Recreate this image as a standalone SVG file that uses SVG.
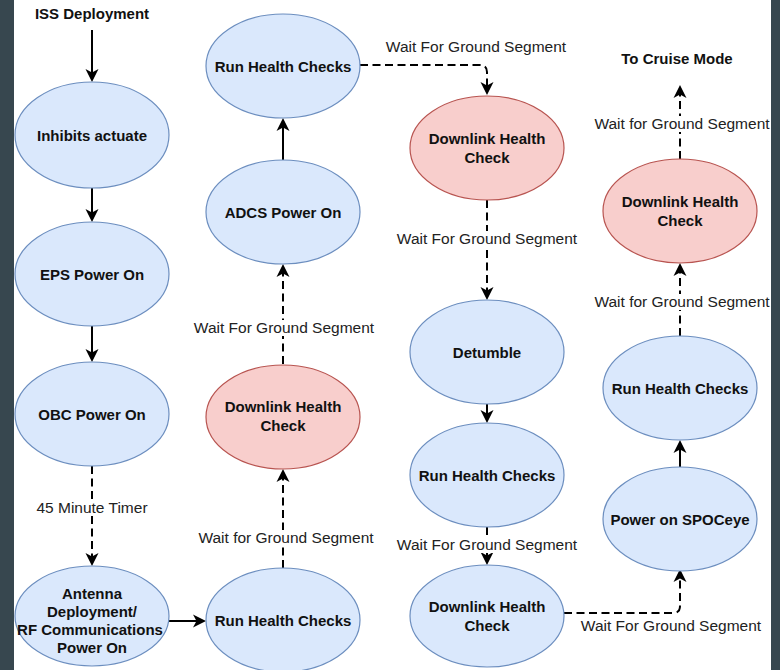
<svg xmlns="http://www.w3.org/2000/svg" width="780" height="670" viewBox="0 0 780 670">
  <style>
    .blue { fill: #dae8fc; stroke: #6c8ebf; stroke-width: 1.2; }
    .red { fill: #f8cecc; stroke: #b85450; stroke-width: 1.2; }
    .t { font-family: "Liberation Sans", Arial, sans-serif; font-size: 15px; font-weight: bold; fill: #111; text-anchor: middle; }
    .lbl { font-family: "Liberation Sans", Arial, sans-serif; font-size: 15.5px; fill: #222; text-anchor: middle; }
    .bg { fill: #ffffff; }
    .solid { fill: none; stroke: #000; stroke-width: 2; marker-end: url(#arr); }
    .dash { fill: none; stroke: #000; stroke-width: 2; stroke-dasharray: 8 4.5; marker-end: url(#arr); }
  </style>
  <defs>
    <marker id="arr" viewBox="-14 -8 16 16" markerWidth="16" markerHeight="16" refX="-8" refY="0" orient="auto" markerUnits="userSpaceOnUse">
      <path d="M0,0 L-13,-6.5 L-9.5,0 L-13,6.5 Z" fill="#000"/>
    </marker>
  </defs>

  <!-- page background and side bands -->
  <rect x="0" y="0" width="780" height="670" fill="#ffffff"/>
  <rect x="0" y="0" width="14" height="670" fill="#37474f"/>
  <rect x="771" y="0" width="9" height="670" fill="#37474f"/>

  <!-- connectors -->
  <g id="connectors">
    <path class="solid" d="M92,30 V74"/>
    <path class="solid" d="M92,188 V214"/>
    <path class="solid" d="M92,326 V354"/>
    <path class="dash" d="M92,466 V558"/>
    <path class="solid" d="M169,621 H198"/>

    <path class="dash" d="M283,568 V477"/>
    <path class="dash" d="M283,364 V272"/>
    <path class="solid" d="M283,160 V126"/>
    <path class="dash" d="M360,65 H480 Q487,65 487,72 V87"/>

    <path class="dash" d="M487,200 V292"/>
    <path class="solid" d="M487,404 V415"/>
    <path class="dash" d="M487,527 V557"/>
    <path class="dash" d="M564,613 H673 Q680,613 680,606 V577"/>

    <path class="solid" d="M680,467 V448"/>
    <path class="dash" d="M680,336 V271"/>
    <path class="dash" d="M680,159 V93"/>

    <!-- connector labels -->
    <rect class="bg" x="36" y="500" width="112" height="16"/>
    <text class="lbl" x="92" y="513">45 Minute Timer</text>
    <rect class="bg" x="198" y="530" width="176" height="16"/>
    <text class="lbl" x="286" y="543">Wait for Ground Segment</text>
    <rect class="bg" x="194" y="320" width="180" height="16"/>
    <text class="lbl" x="284" y="333">Wait For Ground Segment</text>
    <text class="lbl" x="476" y="52">Wait For Ground Segment</text>
    <rect class="bg" x="397" y="231" width="180" height="16"/>
    <text class="lbl" x="487" y="244">Wait For Ground Segment</text>
    <rect class="bg" x="397" y="537" width="180" height="16"/>
    <text class="lbl" x="487" y="550">Wait For Ground Segment</text>
    <text class="lbl" x="671" y="631">Wait For Ground Segment</text>
    <rect class="bg" x="595" y="294" width="174" height="16"/>
    <text class="lbl" x="682" y="307">Wait for Ground Segment</text>
    <rect class="bg" x="595" y="116" width="174" height="16"/>
    <text class="lbl" x="682" y="129">Wait for Ground Segment</text>
  </g>

  <!-- start and end terminals -->
  <g id="iss-deployment">
    <text class="t" x="92" y="19">ISS Deployment</text>
  </g>
  <g id="to-cruise-mode">
    <text class="t" x="677" y="64">To Cruise Mode</text>
  </g>

  <!-- column 1 -->
  <g id="inhibits-actuate">
    <ellipse class="blue" cx="92" cy="135" rx="77" ry="53"/>
    <text class="t" x="92" y="141">Inhibits actuate</text>
  </g>
  <g id="eps-power-on">
    <ellipse class="blue" cx="92" cy="274" rx="77" ry="52"/>
    <text class="t" x="92" y="280">EPS Power On</text>
  </g>
  <g id="obc-power-on">
    <ellipse class="blue" cx="92" cy="414" rx="77" ry="52"/>
    <text class="t" x="92" y="420">OBC Power On</text>
  </g>
  <g id="antenna-deployment">
    <ellipse class="blue" cx="92" cy="616" rx="77" ry="50"/>
    <text class="t" x="92" y="599">Antenna</text>
    <text class="t" x="92" y="617">Deployment/</text>
    <text class="t" x="90" y="635">RF Communications</text>
    <text class="t" x="92" y="653">Power On</text>
  </g>

  <!-- column 2 -->
  <g id="run-health-checks-1">
    <ellipse class="blue" cx="283" cy="620" rx="77" ry="52"/>
    <text class="t" x="283" y="626">Run Health Checks</text>
  </g>
  <g id="downlink-health-check-1">
    <ellipse class="red" cx="283" cy="417" rx="77" ry="52"/>
    <text class="t" x="283" y="412">Downlink Health</text>
    <text class="t" x="283" y="431">Check</text>
  </g>
  <g id="adcs-power-on">
    <ellipse class="blue" cx="283" cy="212" rx="77" ry="52"/>
    <text class="t" x="283" y="218">ADCS Power On</text>
  </g>
  <g id="run-health-checks-2">
    <ellipse class="blue" cx="283" cy="66" rx="77" ry="52"/>
    <text class="t" x="283" y="72">Run Health Checks</text>
  </g>

  <!-- column 3 -->
  <g id="downlink-health-check-2">
    <ellipse class="red" cx="487" cy="148" rx="77" ry="52"/>
    <text class="t" x="487" y="144">Downlink Health</text>
    <text class="t" x="487" y="163">Check</text>
  </g>
  <g id="detumble">
    <ellipse class="blue" cx="487" cy="352" rx="77" ry="52"/>
    <text class="t" x="487" y="358">Detumble</text>
  </g>
  <g id="run-health-checks-3">
    <ellipse class="blue" cx="487" cy="475" rx="77" ry="52"/>
    <text class="t" x="487" y="481">Run Health Checks</text>
  </g>
  <g id="downlink-health-check-3">
    <ellipse class="blue" cx="487" cy="616" rx="77" ry="51"/>
    <text class="t" x="487" y="612">Downlink Health</text>
    <text class="t" x="487" y="631">Check</text>
  </g>

  <!-- column 4 -->
  <g id="power-on-spoceye">
    <ellipse class="blue" cx="680" cy="519" rx="77" ry="52"/>
    <text class="t" x="680" y="525">Power on SPOCeye</text>
  </g>
  <g id="run-health-checks-4">
    <ellipse class="blue" cx="680" cy="388" rx="77" ry="52"/>
    <text class="t" x="680" y="394">Run Health Checks</text>
  </g>
  <g id="downlink-health-check-4">
    <ellipse class="red" cx="680" cy="211" rx="77" ry="52"/>
    <text class="t" x="680" y="207">Downlink Health</text>
    <text class="t" x="680" y="226">Check</text>
  </g>
</svg>
